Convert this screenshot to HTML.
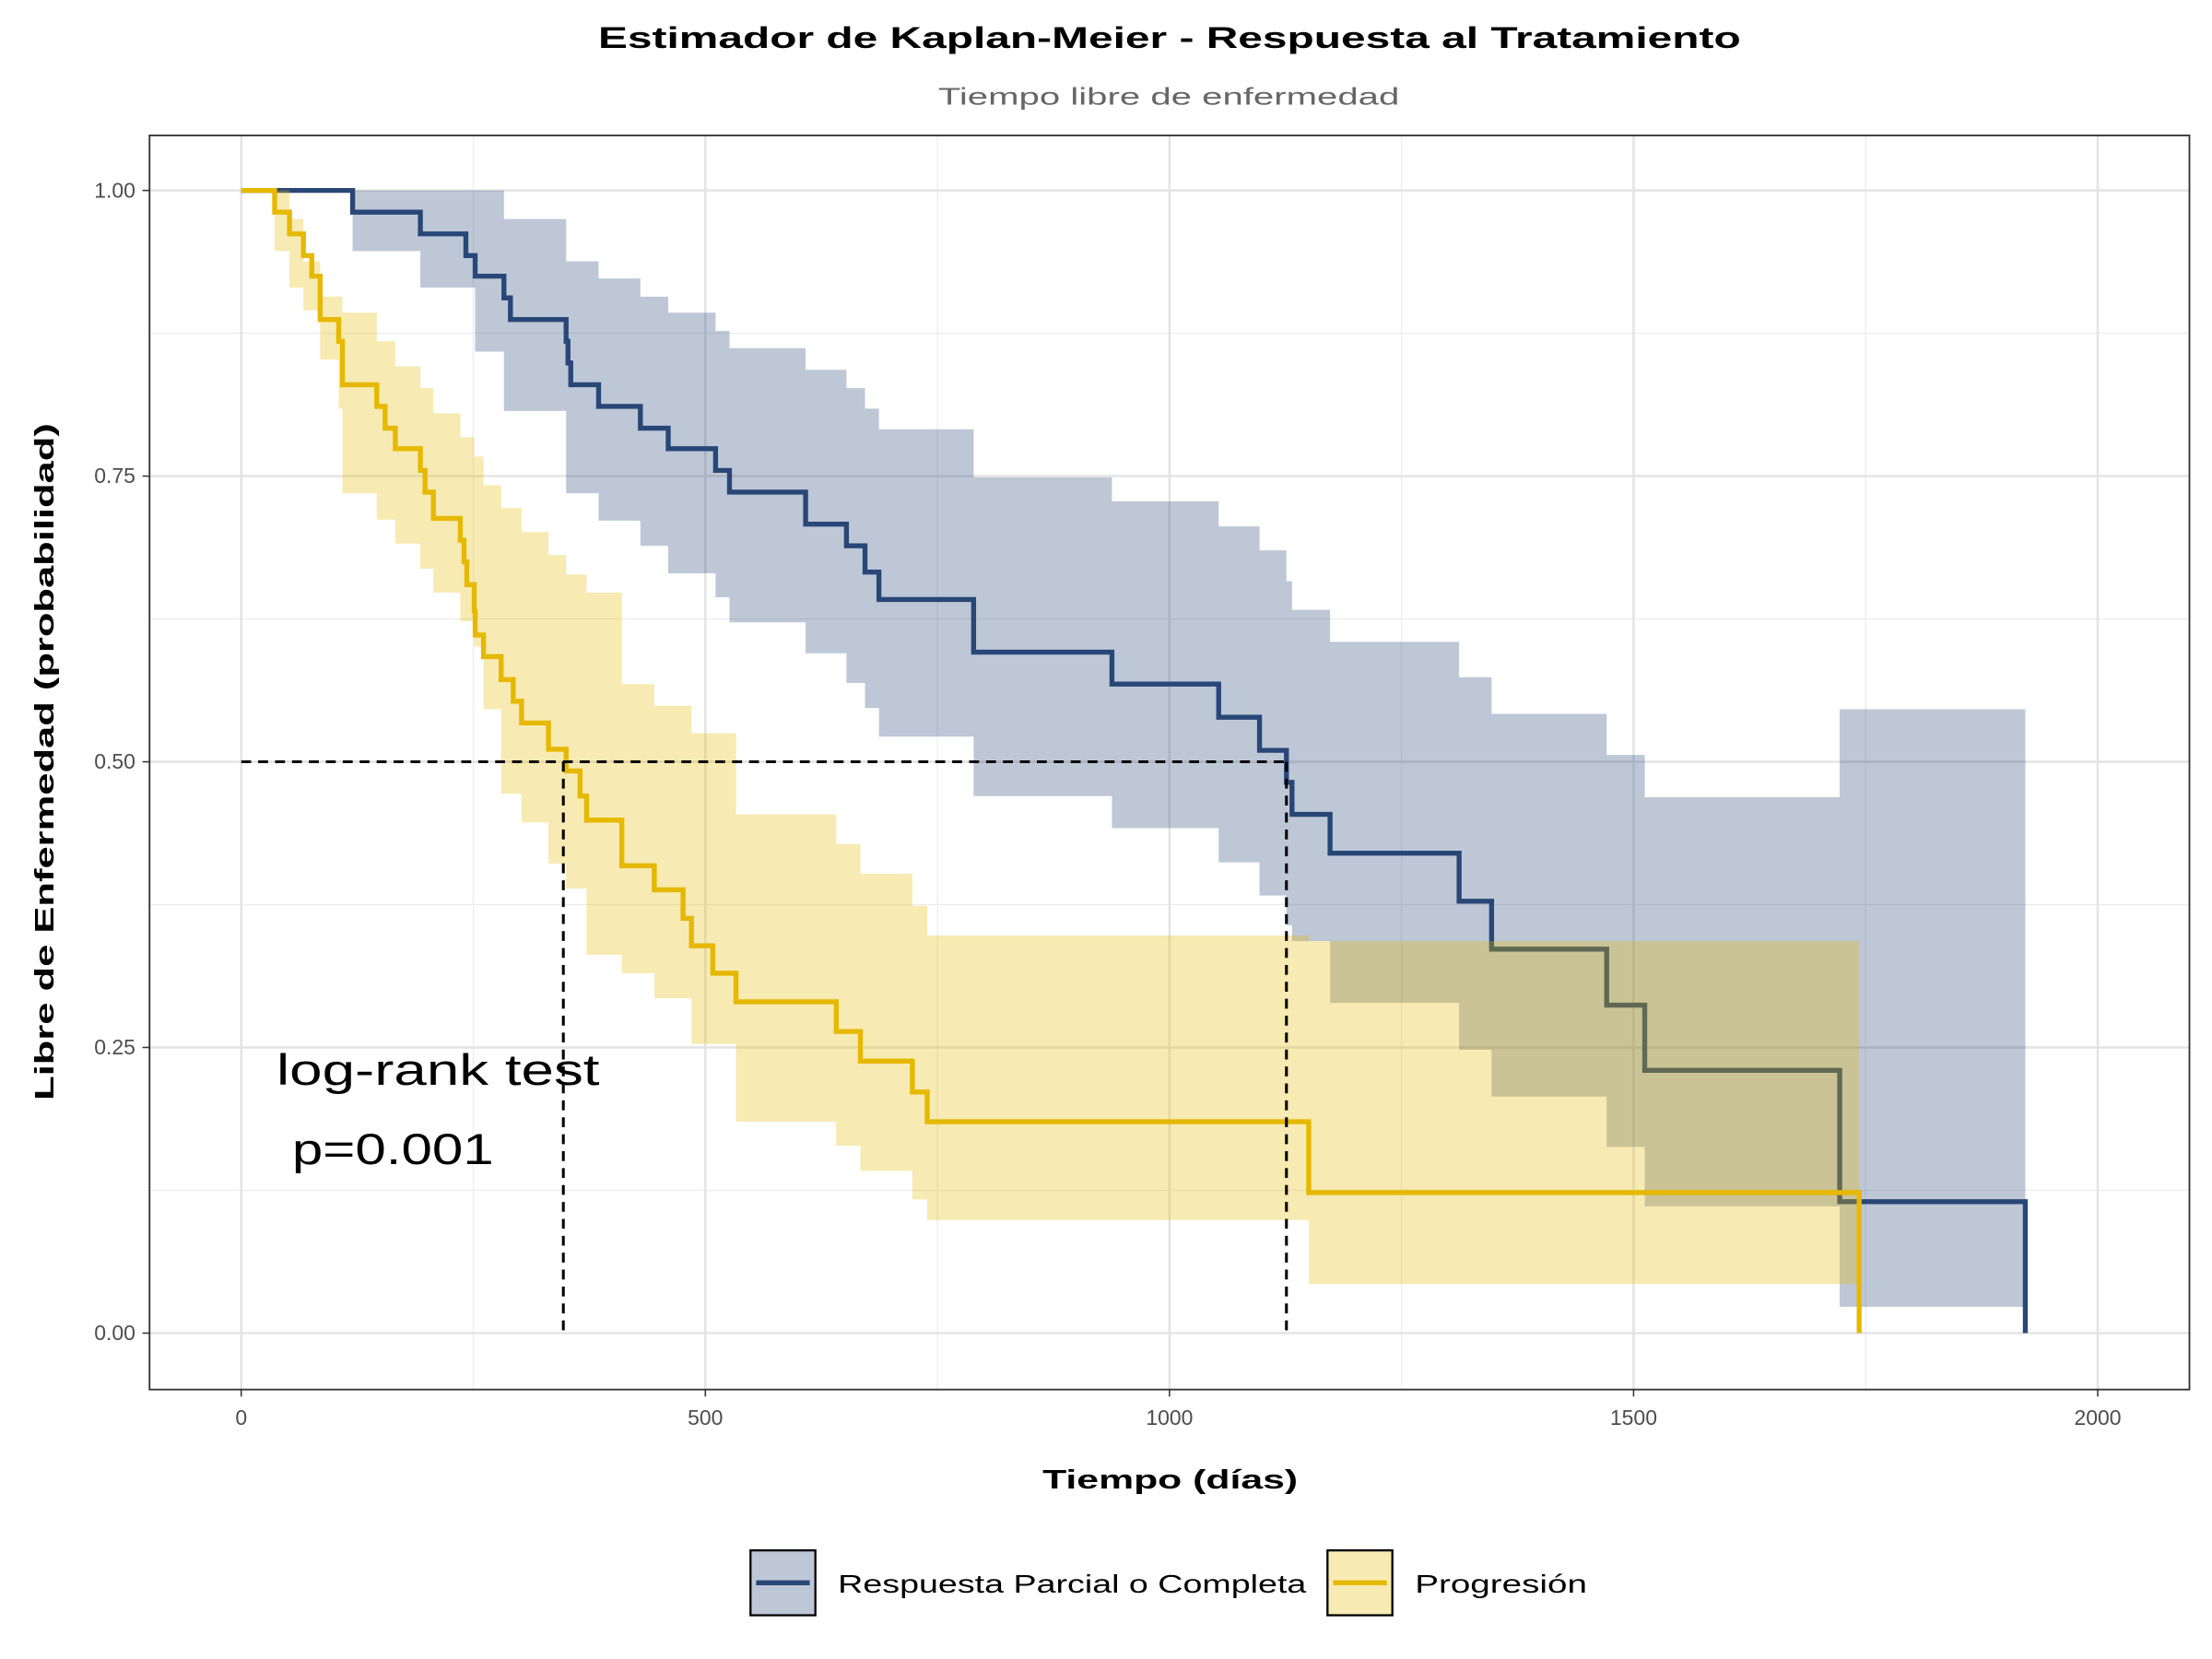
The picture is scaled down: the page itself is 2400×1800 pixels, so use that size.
<!DOCTYPE html>
<html><head><meta charset="utf-8"><style>
html,body{margin:0;padding:0;background:#fff;}
svg{display:block;font-family:"Liberation Sans",sans-serif;}
</style></head><body>
<svg id="chart" width="2400" height="1800" viewBox="0 0 1568 1176" xmlns="http://www.w3.org/2000/svg">
<rect width="1568" height="1176" fill="#fff"/>
<text x="424" y="34" textLength="810" lengthAdjust="spacingAndGlyphs" font-size="21" font-weight="bold" fill="#000">Estimador de Kaplan-Meier - Respuesta al Tratamiento</text>
<text x="665" y="74" textLength="327" lengthAdjust="spacingAndGlyphs" font-size="17" fill="#666">Tiempo libre de enfermedad</text>
<g id="grid"></g>
<g id="marks"></g>
<rect x="106" y="96" width="1446" height="889" fill="none" stroke="#333" stroke-width="1.2"/>
<g id="axes"></g>
<text x="739" y="1055" textLength="181" lengthAdjust="spacingAndGlyphs" font-size="19" font-weight="bold">Tiempo (días)</text>
<text transform="translate(38,780) rotate(-90)" textLength="480" lengthAdjust="spacingAndGlyphs" font-size="19" font-weight="bold">Libre de Enfermedad (probabilidad)</text>
<text x="196" y="769" textLength="229" lengthAdjust="spacingAndGlyphs" font-size="31">log-rank test</text>
<text x="207" y="825" textLength="143" lengthAdjust="spacingAndGlyphs" font-size="31">p=0.001</text>
<g>
  <g>
    <rect x="532" y="1099" width="46" height="46" fill="rgba(40,71,119,0.3)" stroke="#000" stroke-width="1.5"/>
    <line x1="536" y1="1122" x2="574" y2="1122" stroke="#284777" stroke-width="3.5"/>
    <text x="594" y="1129" textLength="332" lengthAdjust="spacingAndGlyphs" font-size="18">Respuesta Parcial o Completa</text>
  </g>
  <g>
    <rect x="941" y="1099" width="46" height="46" fill="rgba(230,184,0,0.3)" stroke="#000" stroke-width="1.5"/>
    <line x1="945" y1="1122" x2="983" y2="1122" stroke="#E6B800" stroke-width="3.5"/>
    <text x="1003" y="1129" textLength="122" lengthAdjust="spacingAndGlyphs" font-size="18">Progresión</text>
  </g>
</g>
</svg>
<script>
const xTicks=[0,500,1000,1500,2000];
const xMinor=[250,750,1250,1750];
const yTicks=[0,0.25,0.5,0.75,1];
const yTickLabels=["0.00","0.25","0.50","0.75","1.00"];
const yMinor=[0.125,0.375,0.625,0.875];

const blueTimes=[0,120,193,242,252,283,290,350,352,355,385,430,460,511,526,608,652,672,687,789,938,1053,1097,1126,1132,1173,1312,1347,1471,1512,1722,1922];
const blueSurv=[1,0.981,0.962,0.943,0.925,0.906,0.887,0.868,0.849,0.830,0.811,0.792,0.774,0.755,0.736,0.708,0.689,0.666,0.642,0.596,0.568,0.539,0.510,0.482,0.454,0.420,0.378,0.336,0.287,0.230,0.115,0];
const blueCiTimes=[0,120,193,252,283,350,385,430,460,511,526,608,652,672,687,789,938,1053,1097,1126,1132,1173,1312,1347,1471,1512,1722];
const blueCiEnd=1922;
const blueUpper=[1,1,1,1,0.975,0.938,0.923,0.907,0.893,0.877,0.862,0.843,0.827,0.809,0.791,0.749,0.728,0.706,0.685,0.658,0.633,0.605,0.574,0.542,0.506,0.469,0.546];
const blueLower=[1,0.947,0.915,0.859,0.807,0.735,0.711,0.689,0.665,0.644,0.622,0.595,0.569,0.547,0.522,0.470,0.442,0.412,0.383,0.357,0.343,0.289,0.248,0.207,0.163,0.111,0.023];

const yelTimes=[0,36,52,67,76,85,105,109,146,155,166,193,198,207,236,240,243,251,252,261,280,293,302,331,350,365,372,410,445,476,485,508,533,641,667,723,739,1150,1743];
const yelSurv=[1,0.981,0.962,0.943,0.925,0.887,0.868,0.830,0.811,0.792,0.774,0.755,0.736,0.713,0.694,0.675,0.655,0.632,0.611,0.592,0.572,0.553,0.534,0.511,0.492,0.470,0.449,0.409,0.388,0.363,0.339,0.315,0.290,0.264,0.238,0.211,0.185,0.123,0];
const yelCiTimes=[0,36,52,67,85,105,109,146,166,193,207,236,251,261,280,302,331,350,372,410,445,485,533,641,667,723,739,1150];
const yelCiEnd=1743;
const yelUpper=[1,1,0.975,0.938,0.907,0.907,0.893,0.868,0.846,0.827,0.805,0.784,0.767,0.742,0.722,0.701,0.681,0.664,0.648,0.568,0.549,0.525,0.454,0.428,0.402,0.374,0.348,0.343];
const yelLower=[1,0.947,0.915,0.895,0.852,0.809,0.735,0.712,0.691,0.669,0.648,0.623,0.601,0.546,0.472,0.447,0.411,0.389,0.331,0.315,0.293,0.253,0.185,0.164,0.142,0.117,0.099,0.043];

const medianSurv=0.5;
const medians=[347,1126];

const NS="http://www.w3.org/2000/svg";
const X=t=>171+t*(1487-171)/2000;
const Y=s=>945-s*(945-135);
function mk(parent,tag,attrs){const e=document.createElementNS(NS,tag);for(const k in attrs)e.setAttribute(k,attrs[k]);document.getElementById(parent).appendChild(e);return e;}

xMinor.forEach(v=>{const l=mk('grid','line',{x1:X(v),x2:X(v),y1:96,y2:985,stroke:'#ebebeb','stroke-width':0.8});

});
yMinor.forEach(v=>{const l=mk('grid','line',{x1:106,x2:1552,y1:Y(v),y2:Y(v),stroke:'#ebebeb','stroke-width':0.8});

});
xTicks.forEach(v=>{const l=mk('grid','line',{x1:X(v),x2:X(v),y1:96,y2:985,stroke:'#e3e3e3','stroke-width':1.6});


const tk=mk('axes','line',{x1:X(v),x2:X(v),y1:985,y2:990,stroke:'#333'});


const t=mk('axes','text',{x:X(v),y:1010,'text-anchor':'middle','font-size':15,fill:'#4d4d4d'});t.textContent=v;

});
yTicks.forEach((v,i)=>{const l=mk('grid','line',{x1:106,x2:1552,y1:Y(v),y2:Y(v),stroke:'#e3e3e3','stroke-width':1.6});


const tk=mk('axes','line',{x1:101,x2:106,y1:Y(v),y2:Y(v),stroke:'#333'});


const t=mk('axes','text',{x:96,y:Y(v)+5,'text-anchor':'end','font-size':15,fill:'#4d4d4d'});t.textContent=yTickLabels[i];

});

function stepPath(times,surv){let d=`M${X(times[0])},${Y(surv[0])}`;for(let i=1;i<times.length;i++){d+=`H${X(times[i])}V${Y(surv[i])}`;}return d;}
function ribbon(times,end,up,lo){let d='';for(let i=0;i<times.length;i++){const x0=X(times[i]),x1=X(i+1<times.length?times[i+1]:end);d+=(i?'L':'M')+x0+','+Y(up[i])+'L'+x1+','+Y(up[i]);}
for(let i=times.length-1;i>=0;i--){const x0=X(times[i]),x1=X(i+1<times.length?times[i+1]:end);d+='L'+x1+','+Y(lo[i])+'L'+x0+','+Y(lo[i]);}return d+'Z';}

const rb=mk('marks','path',{d:ribbon(blueCiTimes,blueCiEnd,blueUpper,blueLower),fill:'#284777','fill-opacity':0.3});


const lb=mk('marks','path',{d:stepPath(blueTimes,blueSurv),fill:'none',stroke:'#284777','stroke-width':3.5});


const ry=mk('marks','path',{d:ribbon(yelCiTimes,yelCiEnd,yelUpper,yelLower),fill:'#E6B800','fill-opacity':0.3});


const ly=mk('marks','path',{d:stepPath(yelTimes,yelSurv),fill:'none',stroke:'#E6B800','stroke-width':3.5});



const hm=mk('marks','line',{x1:X(0),x2:X(Math.max(...medians)),y1:Y(medianSurv),y2:Y(medianSurv),stroke:'#000','stroke-width':2,'stroke-dasharray':'7,5'});


medians.forEach(m=>{const v=mk('marks','line',{x1:X(m),x2:X(m),y1:Y(medianSurv),y2:Y(0),stroke:'#000','stroke-width':2,'stroke-dasharray':'7,5'});

});
</script>
</body></html>
